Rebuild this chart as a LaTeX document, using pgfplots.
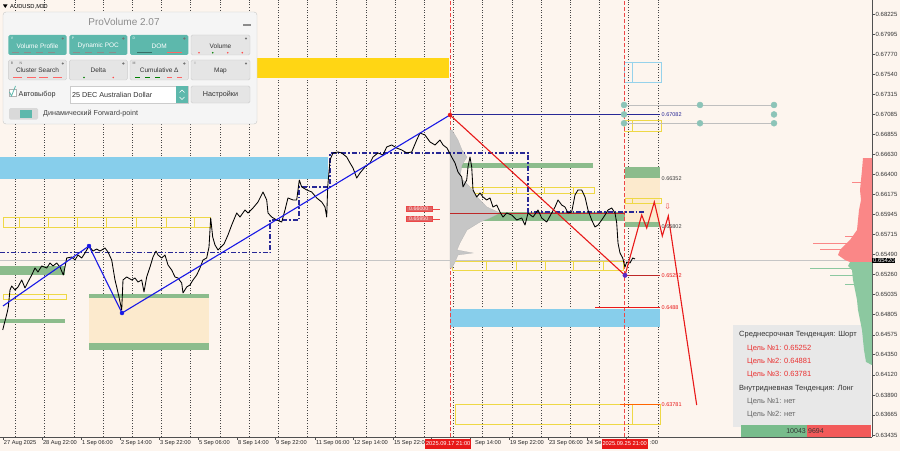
\documentclass[border=0pt]{standalone}
\usepackage{fontspec}
\setmainfont{Liberation Sans}
\newfontfamily\dejavu{DejaVu Sans}
\usepackage{pgfplots}
\pgfplotsset{compat=1.18}
\definecolor{bgc}{RGB}{253,245,238}
\definecolor{gold}{RGB}{255,214,20}
\definecolor{sky}{RGB}{135,206,235}
\definecolor{skyo}{RGB}{150,210,235}
\definecolor{zgreen}{RGB}{140,188,140}
\definecolor{beige}{RGB}{252,234,205}
\definecolor{ylw}{RGB}{238,216,70}
\definecolor{navy2}{RGB}{40,40,150}
\definecolor{zblue}{RGB}{25,25,230}
\definecolor{zred}{RGB}{232,25,25}
\definecolor{dred}{RGB}{190,40,40}
\definecolor{teal1}{RGB}{93,184,172}
\definecolor{tdot}{RGB}{140,196,184}
\definecolor{hred}{RGB}{250,135,135}
\definecolor{hgreen}{RGB}{140,200,160}
\definecolor{bgreen}{RGB}{120,188,140}
\definecolor{bred}{RGB}{242,90,90}
\definecolor{axc}{RGB}{80,80,80}
\definecolor{gridc}{RGB}{70,70,70}
\newcommand{\fs}[1]{\fontsize{#1}{#1}\selectfont}
\newcommand{\vd}[3]{\draw[ylw,line width=0.7pt] (axis cs:#1,#2) -- (axis cs:#1,#3);}
\begin{document}
\begin{tikzpicture}[x=1pt,y=1pt]
\useasboundingbox (0,-14) rectangle (900,437);
\fill[bgc] (0,-14) rectangle (900,437);
\begin{axis}[at={(0,0)}, anchor=south west, scale only axis, width=872pt, height=437pt,
 xmin=0, xmax=872, ymin=0.634122, ymax=0.683843, clip=false,
 axis x line*=bottom, axis y line*=right, axis line style={axc, line width=0.6pt},
 tick align=outside, major tick length=2.5pt, tick style={axc, line width=0.5pt},
 xtick={3,42,81,120,159,198,237,275,315,353,393,431,470,509,548,587,626},
 xticklabels={27 Aug 2025, 28 Aug 22:00, 1 Sep 06:00, 2 Sep 14:00, 3 Sep 22:00, 5 Sep 06:00, 8 Sep 14:00, 9 Sep 22:00, 11 Sep 06:00, 12 Sep 14:00, 15 Sep 22:00, {}, {}, 19 Sep 22:00, 23 Sep 06:00, {}, {}},
 xticklabel style={anchor=north west, inner sep=0.8pt, font=\fs{5.7}, text=black!85},
 ytick={0.68225,0.67995,0.67770,0.67540,0.67315,0.67085,0.66855,0.66630,0.66400,0.66175,0.65945,0.65715,0.65490,0.65260,0.65035,0.64805,0.64575,0.64350,0.64120,0.63890,0.63665,0.63435},
 yticklabels={0.68225,0.67995,0.67770,0.67540,0.67315,0.67085,0.66855,0.66630,0.66400,0.66175,0.65945,0.65715,0.65490,0.65260,0.65035,0.64805,0.64575,0.64350,0.64120,0.63890,0.63665,0.63435},
 yticklabel style={anchor=west, inner sep=1pt, font=\fs{6}, text=black!80},
 scaled y ticks=false, scaled x ticks=false,
]
% grid
\pgfplotsinvokeforeach{15.5,44.7,73.9,103.1,132.3,161.5,190.7,219.9,249.1,278.3,307.5,336.7,365.9,395.1,424.3,453.5,482.7,511.9,541.1,570.3,599.5,628.7,657.9}{\draw[gridc, dash pattern=on 1pt off 1.6pt, line width=0.45pt] (axis cs:#1,0.634122) -- (axis cs:#1,0.683843);}
% zones
\fill[gold] (axis cs:255,0.67724) rectangle (axis cs:449,0.67497);
\fill[sky] (axis cs:0,0.66598) rectangle (axis cs:328,0.66348);
\fill[sky] (axis cs:450,0.64869) rectangle (axis cs:660,0.64664);
\fill[zgreen] (axis cs:0,0.65358) rectangle (axis cs:65,0.65255);
\fill[zgreen] (axis cs:0,0.64755) rectangle (axis cs:65,0.64709);
\fill[beige] (axis cs:89,0.64994) rectangle (axis cs:209,0.64482);
\fill[zgreen] (axis cs:89,0.65039) rectangle (axis cs:209,0.64994);
\fill[zgreen] (axis cs:89,0.64482) rectangle (axis cs:209,0.64402);
\fill[zgreen] (axis cs:450,0.66530) rectangle (axis cs:593,0.66473);
\fill[zgreen] (axis cs:450,0.65972) rectangle (axis cs:625,0.65870);
\fill[beige] (axis cs:625,0.66359) rectangle (axis cs:660,0.65858);
\fill[zgreen] (axis cs:625,0.66484) rectangle (axis cs:660,0.66359);
\fill[zgreen] (axis cs:625,0.65858) rectangle (axis cs:660,0.65801);
% yellow outline rows
\draw[ylw,line width=0.7pt] (axis cs:3,0.65915) rectangle (axis cs:210,0.65802);
\pgfplotsinvokeforeach{19,48,77,106,136,166,194}{\vd{#1}{0.65915}{0.65802}}
\draw[ylw,line width=0.7pt] (axis cs:3,0.65039) rectangle (axis cs:66,0.64983);
\vd{48}{0.65039}{0.64983}
\draw[ylw,line width=0.7pt] (axis cs:452,0.66257) rectangle (axis cs:594,0.66188);
\pgfplotsinvokeforeach{483,516,544,573}{\vd{#1}{0.66257}{0.66188}}
\draw[ylw,line width=0.7pt] (axis cs:452,0.65415) rectangle (axis cs:623,0.65312);
\pgfplotsinvokeforeach{486,516,545,573,603}{\vd{#1}{0.65415}{0.65312}}
\draw[ylw,line width=0.7pt] (axis cs:455,0.63788) rectangle (axis cs:660,0.63560);
\vd{632}{0.63788}{0.63560}
\draw[ylw,line width=0.7pt] (axis cs:624,0.67019) rectangle (axis cs:661,0.66894);
\vd{632}{0.67019}{0.66894}
\draw[ylw,line width=0.7pt] (axis cs:625,0.66132) rectangle (axis cs:661,0.66075);
\vd{632}{0.66132}{0.66075}
\draw[skyo,line width=0.7pt] (axis cs:624,0.67679) rectangle (axis cs:661,0.67451);
\draw[skyo,line width=0.7pt] (axis cs:632,0.67679) -- (axis cs:632,0.67451);
% red dashed verticals
\draw[zred!80, dash pattern=on 4pt off 2pt, line width=0.6pt] (axis cs:450,0.634122) -- (axis cs:450,0.683843);
\draw[zred!80, dash pattern=on 4pt off 2pt, line width=0.6pt] (axis cs:624,0.634122) -- (axis cs:624,0.683843);
% volume profile
\addplot[fill=gray!45, draw=gray!60, line width=0.2pt] coordinates {(450,0.66905) (452,0.66905) (458,0.66791) (462,0.66678) (467,0.66598) (462,0.66507) (460,0.66370) (470,0.66257) (477,0.66143) (487,0.66029) (500,0.65961) (490,0.65904) (480,0.65858) (467,0.65767) (460,0.65620) (457,0.65540) (473,0.65506) (458,0.65483) (455,0.65403) (452,0.65335) (450,0.65335)} -- cycle;
% current price line
\draw[gray!45, line width=0.5pt] (axis cs:0,0.65420) -- (axis cs:872,0.65420);
% blue dash-dot step
\addplot[navy2, line width=1.7pt, dash pattern=on 5pt off 2pt on 1.5pt off 2pt] coordinates {(0,0.65511) (270,0.65511) (270,0.65881) (299,0.65881) (299,0.66257) (330,0.66257) (330,0.66644) (528,0.66644) (528,0.65972) (645,0.65972)};
\draw[dred, line width=0.5pt] (axis cs:450,0.65961) -- (axis cs:625,0.65961);
% price
\addplot[black, line width=0.85pt, line join=round] coordinates {(2.7,0.64630) (7.3,0.64834) (8.3,0.64891) (10,0.65085) (11.7,0.65130) (15,0.65085) (18,0.65119) (21.7,0.65199) (25,0.65108) (28,0.65176) (31.7,0.65255) (35,0.65335) (38,0.65290) (41.7,0.65358) (46.7,0.65335) (50,0.65392) (53,0.65358) (56.7,0.65392) (60,0.65346) (63.3,0.65255) (65,0.65346) (66.7,0.65449) (71.7,0.65460) (75,0.65426) (78,0.65483) (81.7,0.65449) (85,0.65506) (89,0.65585) (93,0.65528) (96.7,0.65551) (100,0.65528) (105,0.65563) (108,0.65517) (111.7,0.65426) (115,0.65199) (116.7,0.65119) (119,0.65005) (121.7,0.64857) (123,0.65199) (126.7,0.65233) (131.7,0.65199) (135,0.65221) (138,0.65176) (141.7,0.65199) (144,0.65062) (146.7,0.65233) (150,0.65346) (153,0.65460) (156,0.65528) (158,0.65483) (161.7,0.65449) (165,0.65483) (168,0.65369) (171.7,0.65312) (175,0.65233) (178,0.65221) (181.7,0.65164) (183,0.65051) (186.7,0.65119) (190,0.65142) (193,0.65199) (196.7,0.65255) (200,0.65335) (203,0.65426) (206.7,0.65449) (209,0.65574) (210.7,0.65904) (212.7,0.65688) (215,0.65597) (218,0.65540) (220,0.65563) (224,0.65608) (228,0.65711) (231.7,0.65824) (236.7,0.65961) (240,0.65915) (245,0.65995) (248,0.65961) (253,0.66018) (258,0.66086) (263,0.66200) (266.7,0.66109) (268,0.65961) (271.7,0.65915) (276.7,0.65881) (281.7,0.65858) (285,0.65995) (288,0.66132) (293,0.66109) (296.7,0.66109) (299.3,0.66336) (301.7,0.66257) (306.7,0.66223) (311.7,0.66200) (316.7,0.66132) (321.7,0.66086) (325,0.66029) (326.7,0.65915) (327.7,0.66257) (330,0.66564) (333,0.66644) (338,0.66655) (341.7,0.66644) (346.7,0.66598) (350,0.66530) (353,0.66473) (356.7,0.66359) (360,0.66416) (365,0.66484) (370,0.66530) (373,0.66598) (378,0.66644) (383,0.66621) (386.7,0.66712) (391.7,0.66735) (396.7,0.66700) (401.7,0.66678) (406.7,0.66644) (411.7,0.66655) (416.7,0.66791) (420,0.66871) (425,0.66848) (430,0.66769) (435,0.66735) (440,0.66791) (443,0.66735) (447,0.66700) (451.7,0.66598) (455,0.66530) (458,0.66427) (461.7,0.66370) (463,0.66257) (466.7,0.66336) (468,0.66484) (470,0.66598) (471.7,0.66484) (473,0.66223) (476.7,0.66143) (480,0.66188) (483,0.66143) (486.7,0.66109) (490,0.66132) (493,0.66029) (496.7,0.66052) (500,0.65972) (503,0.65915) (506.7,0.65961) (511.7,0.65938) (516.7,0.65881) (521.7,0.65904) (525,0.65824) (528,0.65961) (533,0.65915) (538,0.65995) (541.7,0.65904) (546.7,0.65858) (551.7,0.65961) (555,0.66029) (558,0.66109) (561.7,0.66052) (565,0.66029) (568,0.65961) (571.7,0.65972) (575,0.66166) (578,0.66223) (581.7,0.66223) (585,0.66143) (588,0.65995) (591.7,0.65881) (595,0.65802) (598,0.65824) (601.7,0.65881) (605,0.65938) (608,0.65995) (611.7,0.66018) (615,0.65961) (616.7,0.65847) (618,0.65620) (620,0.65506) (622.7,0.65449) (625,0.65346) (626.7,0.65403) (630,0.65392) (632.7,0.65449) (635,0.65438)};
% zigzags
\addplot[zblue, line width=1.1pt] coordinates {(3,0.64903) (89,0.65585) (122,0.64823) (450,0.67076)};
\addplot[zred, line width=1.1pt] coordinates {(450,0.67076) (625,0.65252)};
\addplot[zred, line width=1.1pt] coordinates {(625,0.65252) (641.7,0.65938) (646.7,0.65790) (654.3,0.66086) (662.3,0.65699) (668.3,0.65927) (696.7,0.63776)};
\addplot[only marks, mark=*, mark size=2pt, zblue] coordinates {(89,0.65585) (122,0.64823)};
\addplot[only marks, mark=*, mark size=2pt, zred] coordinates {(450,0.67076)};
\addplot[only marks, mark=*, mark size=2.2pt, color={rgb,255:red,90;green,40;blue,200}] coordinates {(625,0.65252)};
% levels
\draw[navy2, line width=1pt] (axis cs:450,0.67082) -- (axis cs:660,0.67082);
\draw[gray!50, line width=0.6pt] (axis cs:624,0.67190) -- (axis cs:774,0.67190);
\draw[gray!50, line width=0.6pt] (axis cs:624,0.66982) -- (axis cs:774,0.66982);
\addplot[only marks, mark=*, mark size=3pt, tdot] coordinates {(624,0.67190) (700,0.67190) (774,0.67190) (624,0.67082) (774,0.67082) (624,0.66982) (700,0.66982) (774,0.66982)};
\draw[dred, line width=1.2pt] (axis cs:625,0.65252) -- (axis cs:660,0.65252);
\draw[zred, line width=1pt] (axis cs:595,0.64880) -- (axis cs:660,0.64880);
\draw[orange!80!red, line width=1pt] (axis cs:620,0.63781) -- (axis cs:660,0.63781);
\node[anchor=west, font=\fs{5.5}, inner sep=0.5pt, text=navy2] at (axis cs:661,0.67082) {0.67082};
\node[anchor=west, font=\fs{5.5}, inner sep=0.5pt, text=black!75] at (axis cs:661,0.66352) {0.66352};
\node[anchor=west, font=\fs{5.5}, inner sep=0.5pt, text=black!75] at (axis cs:661,0.65802) {0.65802};
\node[anchor=west, font=\fs{5.5}, inner sep=0.5pt, text=zred] at (axis cs:661,0.65252) {0.65252};
\node[anchor=west, font=\fs{5.5}, inner sep=0.5pt, text=zred] at (axis cs:661,0.64880) {0.6488};
\node[anchor=west, font=\fs{5.5}, inner sep=0.5pt, text=zred] at (axis cs:661,0.63781) {0.63781};
\node[font=\dejavu\fs{8}, text=zred!80] at (axis cs:667.7,0.66032) {⇩};
% red price labels
\draw[zred!80, line width=0.5pt] (axis cs:432,0.66006) -- (axis cs:440,0.66006);
\draw[zred!80, line width=0.5pt] (axis cs:432,0.65893) -- (axis cs:440,0.65893);
\node[anchor=east, fill={rgb,255:red,222;green,102;blue,102}, draw=zred!80, text={rgb,255:red,255;green,225;blue,225}, font=\fs{5.3}, inner sep=0.6pt, minimum width=26pt] at (axis cs:432,0.66006) {0.66000};
\node[anchor=east, fill={rgb,255:red,222;green,102;blue,102}, draw=zred!80, text={rgb,255:red,255;green,225;blue,225}, font=\fs{5.3}, inner sep=0.6pt, minimum width=26pt] at (axis cs:432,0.65893) {0.65950};
% info box
\fill[black!9] (axis cs:733,0.64687) rectangle (axis cs:871,0.63526);
\node[anchor=west, font=\fs{7.5}, inner sep=0, text=black!80] at (axis cs:739,0.64573) {Среднесрочная Тенденция: Шорт};
\node[anchor=west, font=\fs{7.5}, inner sep=0, text=zred!90] at (axis cs:747,0.64421) {Цель №1: 0.65252};
\node[anchor=west, font=\fs{7.5}, inner sep=0, text=zred!90] at (axis cs:747,0.64269) {Цель №2: 0.64881};
\node[anchor=west, font=\fs{7.5}, inner sep=0, text=zred!90] at (axis cs:747,0.64118) {Цель №3: 0.63781};
\node[anchor=west, font=\fs{7.5}, inner sep=0, text=black!80] at (axis cs:739,0.63966) {Внутридневная Тенденция: Лонг};
\node[anchor=west, font=\fs{7.5}, inner sep=0, text=black!60] at (axis cs:747,0.63814) {Цель №1: нет};
\node[anchor=west, font=\fs{7.5}, inner sep=0, text=black!60] at (axis cs:747,0.63663) {Цель №2: нет};
% right volume histogram
\addplot[fill=hred, draw=none] coordinates {(872,0.66586) (863,0.66586) (862,0.66450) (861,0.66336) (860,0.66223) (861,0.66109) (859,0.65995) (858,0.65881) (857,0.65767) (850,0.65654) (845,0.65597) (840,0.65540) (838,0.65483) (845,0.65426) (850,0.65403) (872,0.65403)} -- cycle;
\addplot[fill=hgreen, draw=none] coordinates {(872,0.65403) (850,0.65403) (848,0.65358) (852,0.65312) (853,0.65199) (855,0.65085) (857,0.64971) (858,0.64857) (860,0.64743) (862,0.64630) (863,0.64516) (864,0.64402) (866,0.64266) (872,0.64231)} -- cycle;
\addplot[hred, line width=0.6pt] coordinates {(813,0.65620) (872,0.65620)};
\addplot[hred, line width=0.6pt] coordinates {(820,0.65551) (872,0.65551)};
\addplot[hred, line width=0.6pt] coordinates {(845,0.65699) (872,0.65699)};
\addplot[hred, line width=0.6pt] coordinates {(852,0.66314) (872,0.66314)};
\addplot[hgreen, line width=0.6pt] coordinates {(810,0.65335) (872,0.65335)};
\addplot[hgreen, line width=0.6pt] coordinates {(830,0.65255) (872,0.65255)};
\addplot[hgreen, line width=0.6pt] coordinates {(845,0.65153) (872,0.65153)};
% bottom bar
\fill[bgreen] (axis cs:741,0.63549) rectangle (axis cs:807,0.634122);
\fill[bred] (axis cs:807,0.63549) rectangle (axis cs:871,0.634122);
\node[anchor=east, font=\fs{7}, inner sep=0.5pt, text=black!80] at (axis cs:806.5,0.63480) {10043};
\node[anchor=west, font=\fs{7}, inner sep=0.5pt, text=black!80] at (axis cs:807.5,0.63480) {9694};
% current price box
\node[anchor=west, fill=black, text=white, font=\fs{6}, inner sep=0.8pt] at (axis cs:872,0.65420) {0.65420};
\end{axis}
\begin{scope}[shift={(0,437)}, yscale=-1]
% partly hidden x labels and red date boxes
\node[anchor=north west, font=\fs{5.7}, inner sep=0.8pt, text=black!85] at (474,439.6) {Sep 14:00};
\node[anchor=north west, font=\fs{5.7}, inner sep=0pt, text=black!85] at (586.5,440.4) {24 Se};
\node[anchor=north west, font=\fs{5.7}, inner sep=0.8pt, text=black!85] at (649,439.6) {:00};
\node[fill=zred, text=white, font=\fs{5.7}, inner sep=0.8pt, minimum height=10pt, anchor=west] at (425,443.5) {2025.09.17 21:00};
\node[fill=zred, text=white, font=\fs{5.7}, inner sep=0.8pt, minimum height=10pt, anchor=west] at (601.5,443.5) {2025.09.25 21:00};
% symbol label
\fill[black] (3,4.5) -- (7.5,4.5) -- (5.25,8) -- cycle;
\node[anchor=west, font=\fs{5.8}, inner sep=0] at (10,6.5) {AUDUSD,M30};
% panel
\fill[black!4, draw=black!22, rounded corners=3pt] (3,12) rectangle (257,124);
\node[text=black!45, font=\fs{10}] at (124,22) {ProVolume 2.07};
\draw[black!45, line width=1.2pt] (243,25) -- (251,25);
\fill[teal1, rounded corners=1.5pt] (8.3,35) rectangle (66.7,55);
\fill[teal1, rounded corners=1.5pt] (69.3,35) rectangle (127.3,55);
\fill[teal1, rounded corners=1.5pt] (130,35) rectangle (188.3,55);
\fill[black!10, draw=black!20, rounded corners=1.5pt] (191,35) rectangle (250,55);
\fill[black!10, draw=black!20, rounded corners=1.5pt] (8.3,60) rectangle (66.7,80);
\fill[black!10, draw=black!20, rounded corners=1.5pt] (69.3,60) rectangle (127.3,80);
\fill[black!10, draw=black!20, rounded corners=1.5pt] (130,60) rectangle (188.3,80);
\fill[black!10, draw=black!20, rounded corners=1.5pt] (191,60) rectangle (250,80);
\node[text=white, font=\fs{6.5}] at (37.5,46) {Volume Profile};
\node[text=white, font=\fs{6.5}] at (98.3,46) {Dynamic POC};
\node[text=white, font=\fs{6.5}] at (159.2,46) {DOM};
\node[text=black!80, font=\fs{6.5}] at (220.5,46) {Volume};
\node[text=black!80, font=\fs{6.5}] at (37.5,70.5) {Cluster Search};
\node[text=black!80, font=\fs{6.5}] at (98.3,70.5) {Delta};
\node[text=black!80, font=\fs{6.5}] at (159.2,70.5) {Cumulative Δ};
\node[text=black!80, font=\fs{6.5}] at (220.5,70.5) {Map};
\node[text=white, font=\fs{3.5}] at (12,38.5) {V};
\node[text=white, font=\fs{3.5}] at (73,38.5) {P};
\node[text=white, font=\fs{3.5}] at (134,38.5) {D};
\node[text=black!60, font=\fs{3.5}] at (12,63.5) {B};
\node[text=black!60, font=\fs{3.5}] at (21,63.5) {N};
\node[text=black!60, font=\fs{3.5}] at (134,63.5) {M};
\node[text=black!60, font=\fs{3.5}] at (195,63.5) {I};
\foreach \gx in {62.7,123.3,184.3,246} {\fill[black!55] (\gx,38.5) circle (1.2); \fill[black!55] (\gx,63.5) circle (1.2);}
\foreach \a in {12,24,36,48} {\draw[black!45, line width=0.6pt] (\a,52.5) -- (\a+7,52.5);}
\foreach \a in {73,85,97,109} {\draw[black!45, line width=0.6pt] (\a,52.5) -- (\a+7,52.5);}
\draw[teal1!60!black, line width=0.7pt] (137,52.5) -- (152,52.5);
\draw[red!60, line width=0.7pt] (167,52.5) -- (182,52.5);
\fill[red!70] (199,52.7) circle (0.9); \fill[green!50!black] (212.7,52.7) circle (0.9); \fill[red!70] (227.7,52.7) circle (0.9); \fill[red!70] (242.3,52.7) circle (0.9);
\foreach \a in {13,27,39,53} {\draw[red!60, line width=0.6pt] (\a,77.5) -- (\a+9,77.5);}
\fill[green!50!black] (84,77.5) circle (0.9); \fill[red!70] (113.3,77.5) circle (0.9);
\foreach \a in {135,145,155} {\draw[green!50!black, line width=0.6pt] (\a,77.5) -- (\a+5,77.5);}
\foreach \a in {167,177} {\draw[red!60, line width=0.6pt] (\a,77.5) -- (\a+5,77.5);}
\fill[white, draw=black!30] (9,89) rectangle (16,96);
\draw[teal1, line width=0.8pt] (9.5,92) -- (11.5,96) -- (15.5,86);
\node[anchor=west, font=\fs{7.2}, inner sep=0, text=black!80] at (18.5,95) {Автовыбор};
\fill[white, draw=black!20] (70,86) rectangle (188,103);
\node[anchor=west, font=\fs{7.2}, inner sep=0, text=black!80] at (72,95) {25 DEC Australian Dollar};
\fill[teal1] (176,86) rectangle (188,103);
\draw[white, line width=0.5pt] (179.5,92.5) -- (182,90) -- (184.5,92.5);
\draw[white, line width=0.5pt] (179.5,97) -- (182,99.5) -- (184.5,97);
\fill[black!10, draw=black!20, rounded corners=1.5pt] (191,86) rectangle (250,103);
\node[text=black!80, font=\fs{7.2}] at (220.5,95) {Настройки};
\fill[black!15, rounded corners=1.5pt] (9,108) rectangle (38,119.5);
\fill[teal1] (20,109.5) rectangle (32,118);
\node[anchor=west, font=\fs{7.2}, inner sep=0, text=black!75] at (43,114) {Динамический Forward-point};
\end{scope}
\end{tikzpicture}
\end{document}
